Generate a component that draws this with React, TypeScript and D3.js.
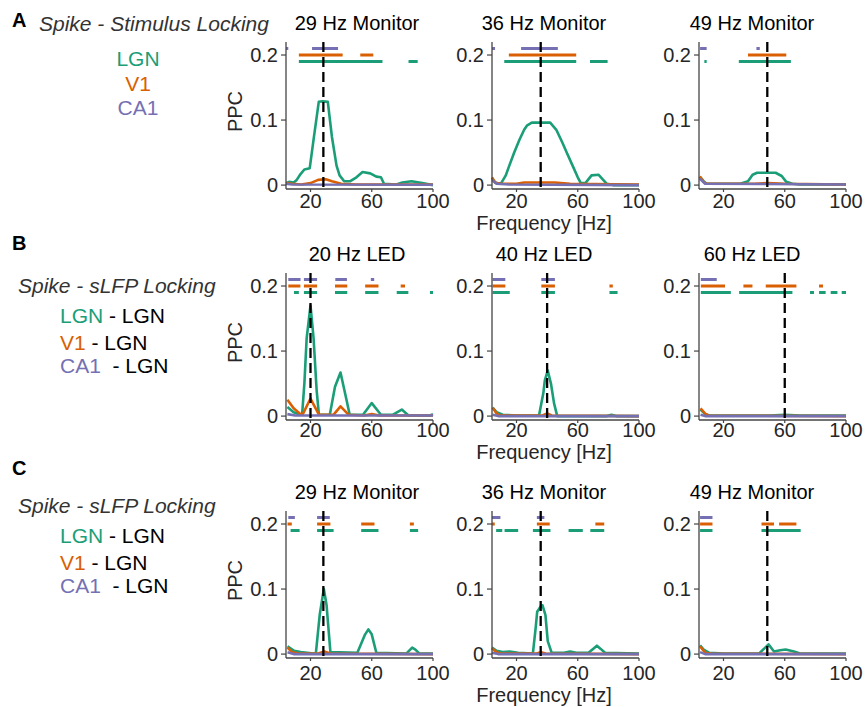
import * as d3 from 'd3'

type Pt = [number, number]
type Span = [number, number]

const LGN_C = '#1b9e77'
const V1_C = '#d95f02'
const CA1_C = '#7570b3'
const INK = '#262626'
const FONT = '"Liberation Sans", Arial, Helvetica, sans-serif'

const xDomain: Span = [4, 100]
const yDomain: Span = [-0.006, 0.22]
const xTicks = [20, 60, 100]
const yTicks = [0, 0.1, 0.2]
const sigY = { lgn: 0.19, v1: 0.2, ca1: 0.21 }

// --- row A: spike - stimulus locking ---
const a29Lgn: Pt[] = [[4, 0.003], [6, 0.005], [9, 0.004], [11, 0.008], [13.5, 0.017], [16, 0.024], [19.5, 0.026], [22, 0.07], [25.4, 0.128], [28, 0.129], [31.3, 0.128], [34, 0.074], [37, 0.03], [39, 0.015], [42, 0.006], [46, 0.006], [50, 0.012], [54, 0.02], [59, 0.018], [63, 0.013], [66, 0.012], [68, 0.002], [76, 0.001], [80, 0.004], [86, 0.006], [93, 0.003], [100, 0]]
const a29V1: Pt[] = [[4, 0.003], [8, 0.002], [14, 0.001], [20, 0.003], [25, 0.008], [30, 0.009], [34, 0.006], [40, 0.002], [50, 0.001], [100, 0.001]]
const a29Ca1: Pt[] = [[4, 0.002], [8, 0.001], [100, 0.0005]]
const a29SigLgn: Span[] = [[12.4, 67], [84, 90]]
const a29SigV1: Span[] = [[12.4, 41], [52.5, 61]]
const a29SigCa1: Span[] = [[4, 5.5], [21, 38]]

const a36Lgn: Pt[] = [[4, 0.011], [6, 0.004], [8, 0.002], [10, 0.003], [13, 0.015], [15.3, 0.03], [18.5, 0.05], [22, 0.07], [25, 0.085], [27, 0.092], [30, 0.096], [42, 0.096], [46, 0.085], [50, 0.065], [53, 0.049], [57, 0.028], [60, 0.012], [62, 0.003], [65, 0.003], [69, 0.015], [73.5, 0.016], [79, 0.002], [83, 0], [100, 0]]
const a36V1: Pt[] = [[4, 0.012], [6, 0.004], [9, 0.002], [20, 0.002], [25, 0.004], [45, 0.004], [55, 0.002], [100, 0.001]]
const a36Ca1: Pt[] = [[4, 0.008], [7, 0.002], [15, 0.001], [100, 0]]
const a36SigLgn: Span[] = [[12, 59], [68, 79.5]]
const a36SigV1: Span[] = [[15, 59]]
const a36SigCa1: Span[] = [[4, 6], [23, 47]]

const a49Lgn: Pt[] = [[4.5, 0.013], [7, 0.006], [9, 0.002], [31, 0.002], [36, 0.006], [39, 0.016], [42, 0.019], [54, 0.019], [58, 0.014], [61, 0.005], [65, 0.002], [70, 0.001], [100, 0.001]]
const a49V1: Pt[] = [[4.5, 0.013], [7, 0.005], [9, 0.002], [40, 0.002], [49, 0.003], [60, 0.002], [100, 0.001]]
const a49Ca1: Pt[] = [[4.5, 0.01], [8, 0.002], [100, 0.001]]
const a49SigLgn: Span[] = [[7.5, 9], [30, 64]]
const a49SigV1: Span[] = [[36, 61]]
const a49SigCa1: Span[] = [[4.7, 9], [41.5, 43.7]]

// --- row B: spike - sLFP locking, LED ---
const b20Lgn: Pt[] = [[4.9, 0.014], [9, 0.006], [13.5, 0.002], [14.5, 0.002], [16, 0.05], [17.5, 0.12], [20, 0.17], [22, 0.12], [24, 0.04], [25.5, 0.002], [32.6, 0.002], [36, 0.045], [39.6, 0.067], [43.5, 0.025], [45.6, 0.002], [54.3, 0.002], [60, 0.02], [66, 0.002], [73.6, 0.002], [79.6, 0.01], [84, 0.001], [98, 0.001], [100, 0.003]]
const b20V1: Pt[] = [[4.9, 0.025], [9, 0.012], [13.5, 0.003], [15, 0.003], [20, 0.027], [25.6, 0.002], [35, 0.002], [39.6, 0.015], [45, 0.002], [55, 0.001], [60, 0.003], [65, 0.001], [100, 0.001]]
const b20Ca1: Pt[] = [[4.9, 0.003], [10, 0.001], [100, 0.001]]
const b20SigLgn: Span[] = [[9.2, 12.4], [15.7, 24.3], [36, 44], [55.7, 64.4], [76.3, 83.9], [98, 100]]
const b20SigV1: Span[] = [[5.5, 13.4], [15.7, 24.3], [36, 44], [55.7, 64.4], [78.9, 81.7]]
const b20SigCa1: Span[] = [[5.5, 13.5], [15.7, 24.3], [36.2, 43.8], [59.4, 61.6]]

const b40Lgn: Pt[] = [[4.4, 0.013], [7, 0.006], [11, 0.002], [20, 0.001], [34.7, 0.001], [37.5, 0.035], [38.5, 0.055], [40.4, 0.07], [42.5, 0.05], [44.5, 0.02], [46.6, 0], [79, 0], [82, 0.002], [85, 0], [100, 0]]
const b40V1: Pt[] = [[4.4, 0.013], [7, 0.004], [9, 0.001], [37, 0.001], [40, 0.004], [43, 0.001], [100, 0]]
const b40Ca1: Pt[] = [[4.4, 0.002], [8, 0], [100, 0]]
const b40SigLgn: Span[] = [[4.4, 15.6], [36.2, 45.1], [80.7, 86]]
const b40SigV1: Span[] = [[4.4, 12.7], [36.2, 45.1], [80.7, 82.9]]
const b40SigCa1: Span[] = [[4.4, 12.7], [36.2, 45.1]]

const b60Lgn: Pt[] = [[5, 0.01], [8, 0.003], [11, 0.001], [50, 0.001], [60, 0.002], [70, 0.001], [100, 0.001]]
const b60V1: Pt[] = [[5, 0.012], [8, 0.004], [10, 0.001], [100, 0]]
const b60Ca1: Pt[] = [[5, 0.002], [8, 0], [100, 0]]
const b60SigLgn: Span[] = [[5.2, 24.8], [30.2, 65], [76.5, 79.1], [82.4, 86.7], [90, 94.4], [97.2, 100]]
const b60SigV1: Span[] = [[5.2, 21], [33, 38.9], [47.6, 67.6], [82.4, 85]]
const b60SigCa1: Span[] = [[5.2, 15.6]]

// --- row C: spike - sLFP locking, monitor ---
const c29Lgn: Pt[] = [[5, 0.012], [9.3, 0.005], [13.6, 0.003], [22, 0.001], [23.5, 0.001], [26, 0.06], [28.7, 0.1], [30.5, 0.075], [33, 0.003], [50.6, 0.002], [55.6, 0.03], [57.8, 0.038], [59.9, 0.031], [63, 0.002], [82.7, 0.001], [86.4, 0.01], [88.5, 0.007], [91, 0.001], [100, 0.001]]
const c29V1: Pt[] = [[5, 0.01], [8, 0.003], [12, 0.001], [25, 0.001], [29, 0.004], [33, 0.001], [100, 0]]
const c29Ca1: Pt[] = [[5, 0.003], [9, 0], [100, 0]]
const c29SigLgn: Span[] = [[7, 12.9], [24.3, 35.1], [53.1, 64.4], [84.9, 90.3]]
const c29SigV1: Span[] = [[5, 7.8], [24.3, 33], [53.1, 61.8], [84.9, 87.5]]
const c29SigCa1: Span[] = [[5.5, 9.8], [24.3, 32.6]]

const c36Lgn: Pt[] = [[4, 0.01], [7, 0.005], [11, 0.003], [15.5, 0.004], [21, 0.002], [30.7, 0.001], [32.5, 0.04], [33.5, 0.065], [36, 0.074], [37, 0.075], [38.9, 0.06], [40.4, 0.02], [43, 0.002], [51, 0.002], [55, 0.004], [59, 0.002], [67, 0.002], [70, 0.008], [72.5, 0.013], [75, 0.008], [77.8, 0.002], [100, 0.001]]
const c36V1: Pt[] = [[4, 0.009], [7, 0.003], [10, 0.001], [33, 0.001], [36, 0.003], [39, 0.001], [100, 0]]
const c36Ca1: Pt[] = [[4, 0.002], [8, 0], [100, 0]]
const c36SigLgn: Span[] = [[6.7, 10.7], [12.2, 21.1], [30.7, 42.2], [54, 63.3], [68.2, 77.3]]
const c36SigV1: Span[] = [[4, 5.8], [33.3, 41.7], [71.5, 77.3]]
const c36SigCa1: Span[] = [[4, 9.5], [33.3, 38.2]]

const c49Lgn: Pt[] = [[4.7, 0.0135], [7, 0.007], [10.8, 0.002], [20, 0.001], [43.3, 0.001], [49.4, 0.015], [53, 0.004], [57, 0.006], [60.6, 0.007], [66, 0.004], [70, 0.001], [100, 0.001]]
const c49V1: Pt[] = [[4.7, 0.012], [8, 0.002], [12, 0.001], [100, 0]]
const c49Ca1: Pt[] = [[4.7, 0.003], [8, 0], [100, 0]]
const c49SigLgn: Span[] = [[4.7, 12.8], [44.8, 70.4]]
const c49SigV1: Span[] = [[4.7, 12.8], [44.8, 53], [56.3, 67.6]]
const c49SigCa1: Span[] = [[4.7, 12.8]]

const rowATitles = ['29 Hz Monitor', '36 Hz Monitor', '49 Hz Monitor']
const rowBTitles = ['20 Hz LED', '40 Hz LED', '60 Hz LED']
const rowCTitles = ['29 Hz Monitor', '36 Hz Monitor', '49 Hz Monitor']
const monitorFreqs = [28.4, 35.8, 48.6]
const ledFreqs = [20, 40, 60]

type Panel = {
  title: string
  stim: number
  lgn: Pt[]
  v1: Pt[]
  ca1: Pt[]
  sigLgn: Span[]
  sigV1: Span[]
  sigCa1: Span[]
}

const rows: Panel[][] = [
  [
    { title: rowATitles[0], stim: monitorFreqs[0], lgn: a29Lgn, v1: a29V1, ca1: a29Ca1, sigLgn: a29SigLgn, sigV1: a29SigV1, sigCa1: a29SigCa1 },
    { title: rowATitles[1], stim: monitorFreqs[1], lgn: a36Lgn, v1: a36V1, ca1: a36Ca1, sigLgn: a36SigLgn, sigV1: a36SigV1, sigCa1: a36SigCa1 },
    { title: rowATitles[2], stim: monitorFreqs[2], lgn: a49Lgn, v1: a49V1, ca1: a49Ca1, sigLgn: a49SigLgn, sigV1: a49SigV1, sigCa1: a49SigCa1 },
  ],
  [
    { title: rowBTitles[0], stim: ledFreqs[0], lgn: b20Lgn, v1: b20V1, ca1: b20Ca1, sigLgn: b20SigLgn, sigV1: b20SigV1, sigCa1: b20SigCa1 },
    { title: rowBTitles[1], stim: ledFreqs[1], lgn: b40Lgn, v1: b40V1, ca1: b40Ca1, sigLgn: b40SigLgn, sigV1: b40SigV1, sigCa1: b40SigCa1 },
    { title: rowBTitles[2], stim: ledFreqs[2], lgn: b60Lgn, v1: b60V1, ca1: b60Ca1, sigLgn: b60SigLgn, sigV1: b60SigV1, sigCa1: b60SigCa1 },
  ],
  [
    { title: rowCTitles[0], stim: monitorFreqs[0], lgn: c29Lgn, v1: c29V1, ca1: c29Ca1, sigLgn: c29SigLgn, sigV1: c29SigV1, sigCa1: c29SigCa1 },
    { title: rowCTitles[1], stim: monitorFreqs[1], lgn: c36Lgn, v1: c36V1, ca1: c36Ca1, sigLgn: c36SigLgn, sigV1: c36SigV1, sigCa1: c36SigCa1 },
    { title: rowCTitles[2], stim: monitorFreqs[2], lgn: c49Lgn, v1: c49V1, ca1: c49Ca1, sigLgn: c49SigLgn, sigV1: c49SigV1, sigCa1: c49SigCa1 },
  ],
]

// layout
const W = 867
const H = 707
const colLeft = [286, 492, 699]
const panelW = 147
const rowTop = [42, 273, 511]
const panelH = 147
const titleX = [357, 544, 752]
// baselines below the x axis, per row (rows A and B sit tighter in the reference)
const tickGap = [19, 17, 22]
const freqGap = [41, 39, 44]

function PanelPlot({ p, x0, y0, tg }: { p: Panel; x0: number; y0: number; tg: number }) {
  const x = d3.scaleLinear().domain(xDomain).range([x0, x0 + panelW])
  const y = d3.scaleLinear().domain(yDomain).range([y0 + panelH, y0])
  const line = d3.line<Pt>().x(d => x(d[0])).y(d => y(d[1]))
  const bottom = y0 + panelH

  const bars = (spans: Span[], level: number, color: string) =>
    spans.map((s, i) => (
      <line key={i} x1={x(s[0])} x2={x(s[1])} y1={y(level)} y2={y(level)} stroke={color} strokeWidth={3} />
    ))

  return (
    <g>
      {bars(p.sigCa1, sigY.ca1, CA1_C)}
      {bars(p.sigV1, sigY.v1, V1_C)}
      {bars(p.sigLgn, sigY.lgn, LGN_C)}

      <path d={line(p.lgn) ?? ''} fill="none" stroke={LGN_C} strokeWidth={2.6} strokeLinejoin="round" />
      <path d={line(p.v1) ?? ''} fill="none" stroke={V1_C} strokeWidth={2.6} strokeLinejoin="round" />
      <path d={line(p.ca1) ?? ''} fill="none" stroke={CA1_C} strokeWidth={2.6} strokeLinejoin="round" />

      <line x1={x(p.stim)} x2={x(p.stim)} y1={y0} y2={bottom} stroke="#000" strokeWidth={2.3} strokeDasharray="10 5" />

      {/* axes */}
      <line x1={x0} x2={x0} y1={y0} y2={bottom} stroke="#444" strokeWidth={1.3} />
      <line x1={x0} x2={x0 + panelW} y1={bottom} y2={bottom} stroke="#444" strokeWidth={1.3} />
      {yTicks.map(t => (
        <g key={t}>
          <line x1={x0 - 5} x2={x0} y1={y(t)} y2={y(t)} stroke="#444" strokeWidth={1.2} />
          <text x={x0 - 8} y={y(t)} dy="0.36em" textAnchor="end" fontSize={20} fill={INK}>{t === 0 ? '0' : t.toFixed(1)}</text>
        </g>
      ))}
      {xTicks.map(t => (
        <g key={t}>
          <line x1={x(t)} x2={x(t)} y1={bottom} y2={bottom + 3} stroke="#444" strokeWidth={1.2} />
          <text x={x(t)} y={bottom + tg} textAnchor="middle" fontSize={20} fill={INK}>{t}</text>
        </g>
      ))}
    </g>
  )
}

function Legend({ y0 }: { y0: number }) {
  return (
    <g fontSize={21}>
      <text x={18} y={y0} fontStyle="italic" fill="#333">Spike - sLFP Locking</text>
      <text x={60} y={y0 + 30}><tspan fill={LGN_C}>LGN</tspan><tspan fill="#000"> - LGN</tspan></text>
      <text x={60} y={y0 + 57}><tspan fill={V1_C}>V1</tspan><tspan fill="#000"> - LGN</tspan></text>
      <text x={60} y={y0 + 80}><tspan fill={CA1_C}>CA1</tspan><tspan fill="#000">{'\u00a0\u00a0- LGN'}</tspan></text>
    </g>
  )
}

export default function App() {
  return (
    <svg width={W} height={H} viewBox={`0 0 ${W} ${H}`} style={{ position: 'absolute', left: 0, top: 0, background: '#fff' }} fontFamily={FONT}>
      {/* row labels */}
      <text x={12} y={27} fontSize={20} fontWeight="bold" fill="#000">A</text>
      <text x={39} y={31} fontSize={21} fontStyle="italic" fill="#333">Spike - Stimulus Locking</text>
      <g fontSize={21} textAnchor="middle">
        <text x={138} y={66} fill={LGN_C}>LGN</text>
        <text x={138} y={91} fill={V1_C}>V1</text>
        <text x={138} y={115} fill={CA1_C}>CA1</text>
      </g>

      <text x={12} y={250} fontSize={20} fontWeight="bold" fill="#000">B</text>
      <Legend y0={293} />
      <text x={12} y={475} fontSize={20} fontWeight="bold" fill="#000">C</text>
      <Legend y0={513} />

      {rows.map((row, ri) => (
        <g key={ri}>
          {row.map((p, ci) => (
            <g key={ci}>
              <text x={titleX[ci]} y={rowTop[ri] - 12} textAnchor="middle" fontSize={20} fill="#000">{p.title}</text>
              <PanelPlot p={p} x0={colLeft[ci]} y0={rowTop[ri]} tg={tickGap[ri]} />
            </g>
          ))}
          <text transform={`translate(${colLeft[0] - 44},${rowTop[ri] + panelH / 2 - 4}) rotate(-90)`} textAnchor="middle" fontSize={20} fill={INK}>PPC</text>
          <text x={titleX[1]} y={rowTop[ri] + panelH + freqGap[ri]} textAnchor="middle" fontSize={20} fill={INK}>Frequency [Hz]</text>
        </g>
      ))}
    </svg>
  )
}
